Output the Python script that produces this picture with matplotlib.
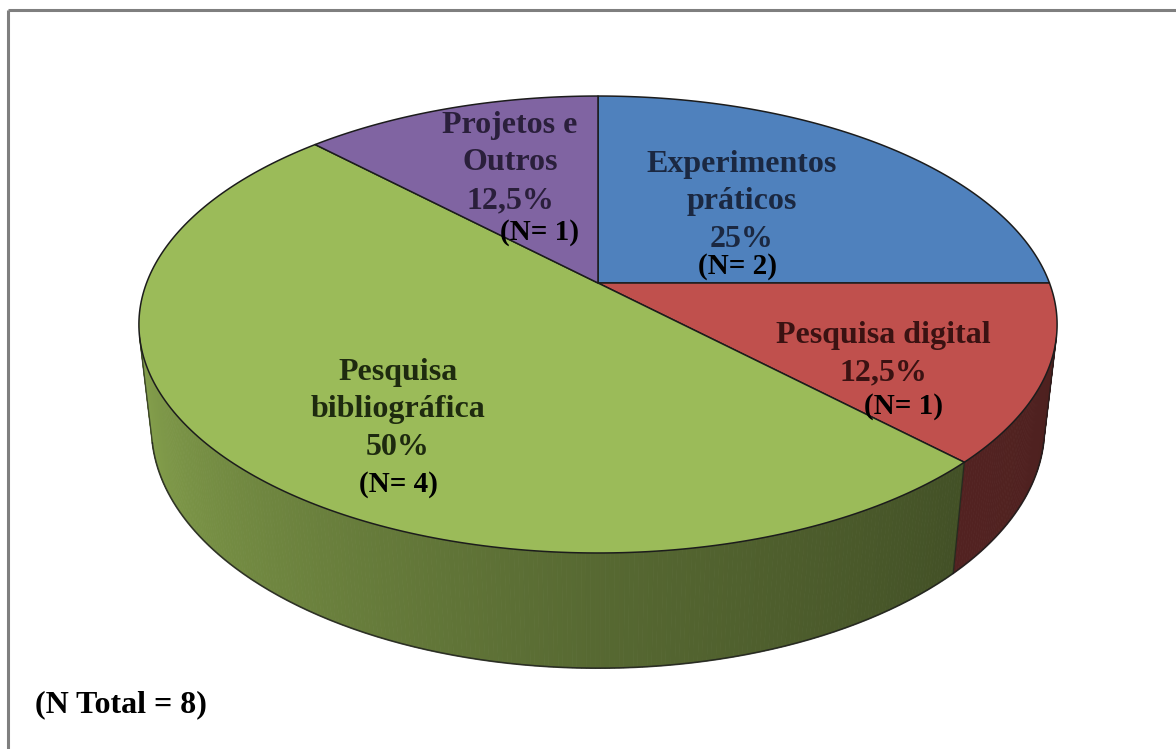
import numpy as np
import matplotlib.pyplot as plt
from matplotlib.collections import PolyCollection
from matplotlib.patches import Polygon

# categories, counts and colours of the pie
categorias = ['Experimentos\npráticos', 'Pesquisa digital', 'Pesquisa\nbibliográfica', 'Projetos e\nOutros']
n_valores = [2, 1, 4, 1]
cores_topo = ['#4F81BD', '#C0504D', '#9BBB59', '#8064A2']
cores_texto = ['#1b2841', '#3a1212', '#1e2a0f', '#2a1f3b']

# label anchors (pixel coords): main label block and the "(N= x)" line
pos_rotulo = [(742, 202), (883, 354), (398, 410), (510, 163)]
pos_n = [(737, 266), (904, 406), (398, 484), (540, 232)]

# perspective camera for the 3D disc
elev = np.radians(29.3)
D = 4.80
escala = 2167
cx, cy = 598, 283
altura = 0.266


def proj(theta, z=0.0):
    xw, yw = np.cos(theta), np.sin(theta)
    depth = D + yw * np.cos(elev) - z * np.sin(elev)
    X = xw / depth
    Y = (yw * np.sin(elev) + z * np.cos(elev)) / depth
    return cx + escala * X, cy - escala * Y


def sombra(theta):
    # lighting of the side wall, brighter on the left
    graus = np.degrees(theta)
    return np.interp(graus, [-170, -90, -45, -10], [0.88, 0.56, 0.43, 0.40])


def escurece(cor, f):
    c = np.array(plt.matplotlib.colors.to_rgb(cor))
    return tuple(np.clip(c * f, 0, 1))


fig = plt.figure(figsize=(11.76, 7.49), dpi=100)
ax = fig.add_axes([0, 0, 1, 1])
ax.set_xlim(0, 1176)
ax.set_ylim(749, 0)
ax.axis('off')

total = sum(n_valores)
fracoes = np.array(n_valores) / total
limites = np.concatenate([[0], np.cumsum(fracoes)])
# slices start at 12 o'clock and run clockwise
ang_ini = np.pi / 2 - 2 * np.pi * limites[:-1]
ang_fim = np.pi / 2 - 2 * np.pi * limites[1:]

# visible part of the side wall
lim_vis = np.arcsin(-1 / (D * np.cos(elev)))
vis_a, vis_b = -np.pi - lim_vis, lim_vis

cor_borda = '#1c1c1c'

for i in range(len(n_valores)):
    a, b = ang_fim[i], ang_ini[i]
    # bring angles into (-2pi, 0] window for the wall test
    for desloc in (0, -2 * np.pi, 2 * np.pi):
        lo, hi = max(a + desloc, vis_a), min(b + desloc, vis_b)
        if hi <= lo:
            continue
        th = np.linspace(lo, hi, max(int(np.degrees(hi - lo) * 2), 2))
        quads, cores = [], []
        for t0, t1 in zip(th[:-1], th[1:]):
            p = [proj(t0, 0), proj(t1, 0), proj(t1, -altura), proj(t0, -altura)]
            quads.append(p)
            cores.append(escurece(cores_topo[i], sombra((t0 + t1) / 2)))
        pc = PolyCollection(quads, facecolors=cores, edgecolors=cores, linewidths=0.6)
        ax.add_collection(pc)

# wall outline
th = np.linspace(vis_a, vis_b, 400)
bx, by = proj(th, -altura)
ax.plot(bx, by, color=cor_borda, lw=1.2, alpha=0.8)
for t in [vis_a, vis_b] + [x for x in ang_ini if vis_a < x - 2 * np.pi < vis_b or vis_a < x < vis_b]:
    t = t - 2 * np.pi if t > vis_b else t
    x0, y0 = proj(t, 0)
    x1, y1 = proj(t, -altura)
    ax.plot([x0, x1], [y0, y1], color=cor_borda, lw=1.0, alpha=0.7)

# top surface wedges
for i in range(len(n_valores)):
    th = np.linspace(ang_ini[i], ang_fim[i], 200)
    px, py = proj(th, 0)
    pts = np.column_stack([np.concatenate([[cx], px]), np.concatenate([[cy], py])])
    ax.add_patch(Polygon(pts, closed=True, facecolor=cores_topo[i],
                         edgecolor=cor_borda, lw=1.1, alpha=1.0, joinstyle='round'))

# labels
fonte = 'Liberation Serif'
for i, cat in enumerate(categorias):
    pct = f'{fracoes[i] * 100:g}'.replace('.', ',') + '%'
    x, y = pos_rotulo[i]
    ax.text(x, y, f'{cat}\n{pct}', ha='center', va='center', family=fonte,
            weight='bold', fontsize=23, color=cores_texto[i], linespacing=1.4)
    xn, yn = pos_n[i]
    ax.text(xn, yn, f'(N= {n_valores[i]})', ha='center', va='center', family=fonte,
            weight='bold', fontsize=21, color='black')

ax.text(35, 705, f'(N Total = {total})', ha='left', va='center', family=fonte,
        weight='bold', fontsize=23, color='black')

# frame lines on top and left
ax.plot([8, 1176], [10, 10], color='#7f7f7f', lw=2.2, solid_capstyle='butt')
ax.plot([8, 8], [10, 749], color='#7f7f7f', lw=2.2, solid_capstyle='butt')

fig.savefig('out.png', dpi=100)
